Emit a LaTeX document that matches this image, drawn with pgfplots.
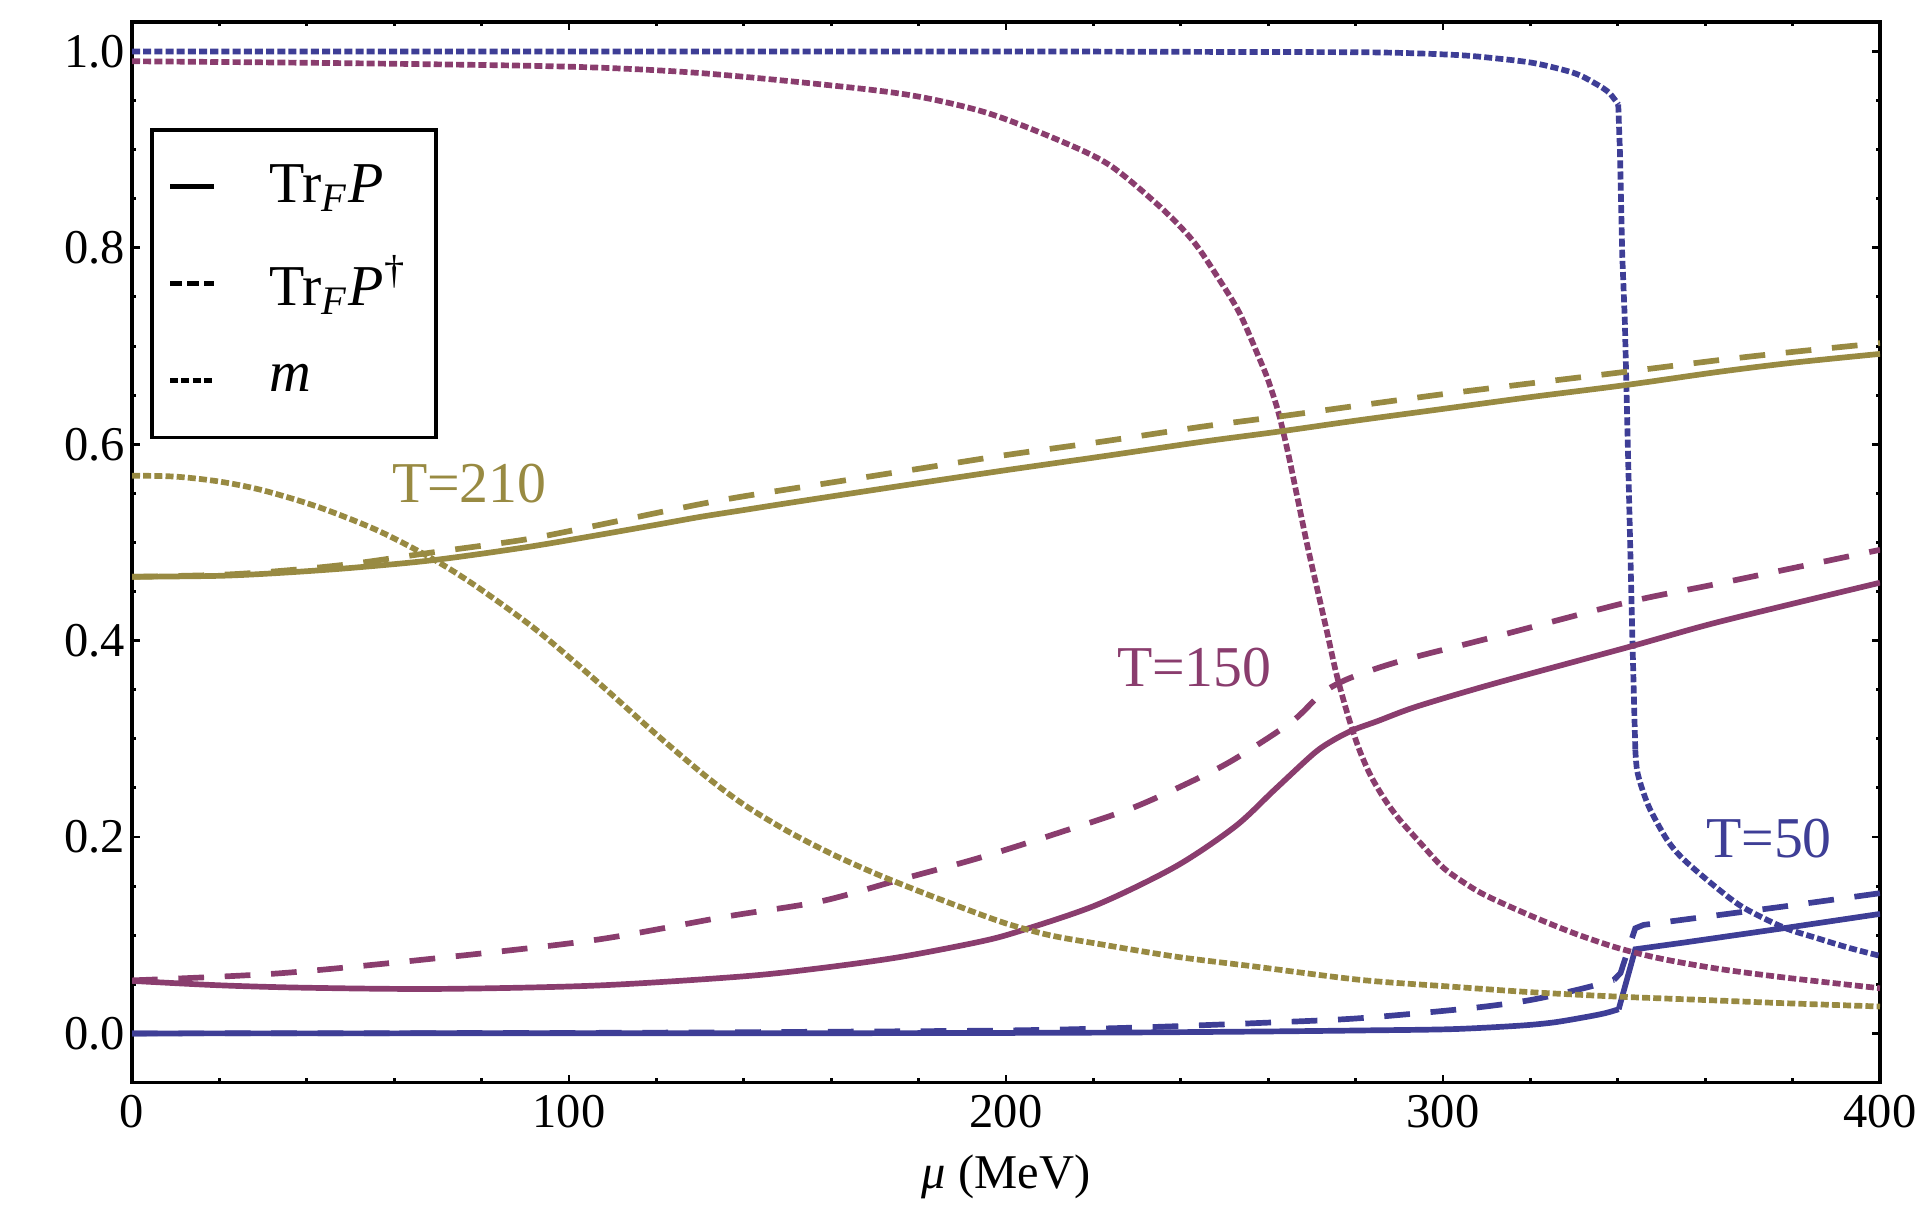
\documentclass[border=0pt]{standalone}
\usepackage{fontspec}
\setmainfont{Liberation Serif}
\usepackage{pgfplots}
\pgfplotsset{compat=1.18}
\definecolor{mblue}{rgb}{0.245,0.245,0.59}
\definecolor{mpurple}{rgb}{0.54,0.24,0.43}
\definecolor{molive}{rgb}{0.595,0.543,0.26}
\tikzset{
  msolid/.style={line width=1.35pt},
  mdashed/.style={line width=1.35pt, dash pattern=on 6.1pt off 4.9pt},
  mdotted/.style={line width=1.35pt, dash pattern=on 1.9pt off 0.75pt},
}
\begin{document}
\begin{tikzpicture}
\begin{axis}[
  at={(0,0)}, anchor=south west,
  scale only axis,
  width=14.5667cm, height=8.8375cm,
  xmin=0, xmax=400, ymin=-0.05, ymax=1.03,
  xtick={0,100,200,300,400},
  ytick={0,0.2,0.4,0.6,0.8,1.0},
  minor x tick num=4,
  minor y tick num=3,
  tick align=inside,
  major tick length=1.8pt,
  minor tick length=1.0pt,
  axis line style={line width=0.9pt},
  every tick/.style={black, line width=0.7pt},
  /pgf/number format/assume math mode=true,
  yticklabel style={/pgf/number format/fixed, /pgf/number format/fixed zerofill, /pgf/number format/precision=1, inner xsep=1.4pt},
  xticklabel style={inner ysep=2.8pt},
  tick label style={font=\fontsize{11.5}{13}\selectfont},
  xlabel={\textit{μ} (MeV)},
  xlabel style={at={(axis description cs:0.5,0)}, anchor=base, yshift=-25.2pt, font=\fontsize{11.5}{13}\selectfont},
  legend cell align=left,
  legend image code/.code={\draw[#1] (0pt,0pt) -- (10.4pt,0pt);},
  legend style={at={(0.0105,0.9003)}, anchor=north west, draw=black, line width=0.9pt, fill=white,
    inner xsep=3.6pt, inner ysep=2pt, row sep=0pt, column sep=12.4pt,
    nodes={inner sep=0pt, minimum height=23pt, text depth=0.15em, font=\fontsize{13.7}{16}\selectfont}},
]
\addlegendimage{black, line width=1.35pt}
\addlegendentry{\makebox[36pt][l]{Tr\textsubscript{\textit{F}}\textit{P}}}
\addlegendimage{black, line width=1.35pt, dash pattern=on 2.7pt off 1.3pt}
\addlegendentry{\makebox[36pt][l]{Tr\textsubscript{\textit{F}}\textit{P}\textsuperscript{\dag}}}
\addlegendimage{black, line width=1.35pt, dash pattern=on 1.9pt off 0.75pt}
\addlegendentry{\makebox[36pt][l]{\textit{m}}}

% ---------- T = 50 (blue) ----------
\addplot[forget plot, mblue, msolid, smooth] coordinates {
(0,0) (150,0.0002) (200,0.0005) (230,0.001) (260,0.002) (281,0.003) (301.7,0.0043) (316.9,0.0077) (325,0.011) (332.2,0.0163) (337,0.0205) (340.2,0.0246)
};
\addplot[forget plot, mblue, msolid] coordinates {
(340.2,0.0246) (344,0.0857) (355.1,0.0925) (377.9,0.1071) (400,0.1217)
};
\addplot[forget plot, mblue, mdashed, smooth] coordinates {
(0,0) (100,0.0005) (150,0.0015) (200,0.003) (230,0.006) (260,0.011) (281,0.0155) (306.3,0.0257) (320,0.034) (332.2,0.046) (339.1,0.0545)
};
\addplot[forget plot, mblue, mdashed] coordinates {
(339.1,0.0545) (340.6,0.0613) (344,0.1071) (345.9,0.1105) (377.9,0.1292) (400,0.1428)
};
\addplot[forget plot, mblue, mdotted, smooth] coordinates {
(0,1.0) (100,1.0) (200,1.0) (250,0.9995) (285,0.999) (303,0.9964) (312,0.993) (321,0.988) (330,0.978) (335,0.967) (338,0.958) (340.1,0.946)
};
\addplot[forget plot, mblue, mdotted] coordinates {
(340.1,0.946) (340.5,0.896) (341,0.794) (341.6,0.727) (342.5,0.56) (343.3,0.408) (344,0.289)
};
\addplot[forget plot, mblue, mdotted, smooth] coordinates {
(344,0.289) (344.4,0.268) (345.5,0.250) (347.4,0.228) (351.3,0.197) (355.1,0.177) (362.7,0.148) (368.8,0.128) (377.9,0.108) (385.6,0.097) (393,0.087) (400,0.079)
};

% ---------- T = 150 (purple) ----------
\addplot[forget plot, mpurple, msolid, smooth] coordinates {
(0,0.0535) (20,0.049) (40,0.0465) (70,0.0453) (106,0.0487) (139.3,0.0579) (157.4,0.0664) (175.5,0.0776) (193.6,0.0930) (202.6,0.1035) (220.7,0.1308) (238.8,0.1699) (252.4,0.2106) (261.4,0.2479) (270.5,0.2853) (275,0.2989) (279.5,0.3091) (285,0.318) (294,0.3329) (312,0.3566) (342.8,0.3939) (363.4,0.4194) (400,0.459)
};
\addplot[forget plot, mpurple, mdashed, smooth] coordinates {
(0,0.054) (33.7,0.0612) (69.8,0.0766) (106,0.0952) (136,0.119) (157.4,0.1343) (175.5,0.1563) (193.6,0.1784) (211.7,0.2038) (229.7,0.2310) (247.8,0.2683) (256.9,0.2921) (265.9,0.3192) (272.3,0.3464) (277.7,0.3600) (285,0.372) (294,0.3838) (312,0.4041) (342.8,0.4397) (363.4,0.4584) (400,0.4925)
};
\addplot[forget plot, mpurple, mdotted, smooth] coordinates {
(0,0.990) (50,0.988) (100,0.9845) (130,0.978) (163,0.964) (180,0.954) (196,0.937) (212.4,0.909) (223.8,0.884) (235.2,0.842) (242.8,0.807) (248.9,0.767) (253.5,0.733) (258.1,0.686) (260,0.665) (262.3,0.633) (264.5,0.592) (266.8,0.543) (269,0.496) (271.3,0.451) (273.5,0.408) (275.5,0.368) (277.7,0.332) (279.5,0.306) (281.1,0.286) (283.5,0.262) (286.7,0.238) (290,0.218) (295,0.193) (300,0.169) (305,0.153) (310,0.140) (320,0.120) (330,0.102) (340,0.087) (350,0.076) (362.7,0.066) (378,0.057) (400,0.046)
};

% ---------- T = 210 (olive) ----------
\addplot[forget plot, molive, msolid, smooth] coordinates {
(0,0.465) (20,0.466) (34,0.469) (50,0.474) (69,0.482) (90,0.495) (106,0.507) (120,0.518) (130,0.526) (140,0.533) (150,0.540) (175,0.557) (200,0.5736) (222,0.5876) (245,0.6026) (262.3,0.6128) (280,0.624) (300,0.636) (320,0.648) (342,0.6604) (363.4,0.6739) (380,0.683) (400,0.692)
};
\addplot[forget plot, molive, mdashed, smooth] coordinates {
(0,0.465) (20,0.467) (34,0.471) (50,0.478) (69,0.490) (90,0.503) (106,0.517) (120,0.530) (130,0.539) (140,0.547) (160,0.561) (180,0.575) (200,0.589) (222,0.6027) (245,0.618) (262.3,0.6281) (280,0.639) (300,0.651) (320,0.662) (342,0.6739) (363.4,0.6858) (380,0.694) (400,0.703)
};
\addplot[forget plot, molive, mdotted, smooth] coordinates {
(0,0.568) (10,0.567) (20,0.562) (30,0.553) (42.7,0.536) (56.3,0.512) (68.9,0.483) (78.9,0.455) (92.5,0.411) (106,0.360) (119.6,0.306) (131,0.263) (140,0.233) (150,0.206) (160,0.183) (170,0.163) (180,0.145) (190,0.128) (200,0.112) (210,0.100) (220.7,0.0915) (238.8,0.0782) (256.9,0.0681) (281.1,0.0545) (301.7,0.0477) (320,0.042) (339.8,0.0375) (360,0.034) (377.9,0.0308) (400,0.0274)
};

\node[anchor=base, text=molive, font=\fontsize{13.7}{16}\selectfont] at (axis cs:77.2,0.5408) {T=210};
\node[anchor=base, text=mpurple, font=\fontsize{13.7}{16}\selectfont] at (axis cs:243.1,0.3536) {T=150};
\node[anchor=base, text=mblue, font=\fontsize{13.7}{16}\selectfont] at (axis cs:374.6,0.1793) {T=50};
\end{axis}
\pgfresetboundingbox
\path[use as bounding box] (-1.1cm,-1.0125cm) rectangle (14.9cm,9.0208cm);
\end{tikzpicture}
\end{document}
